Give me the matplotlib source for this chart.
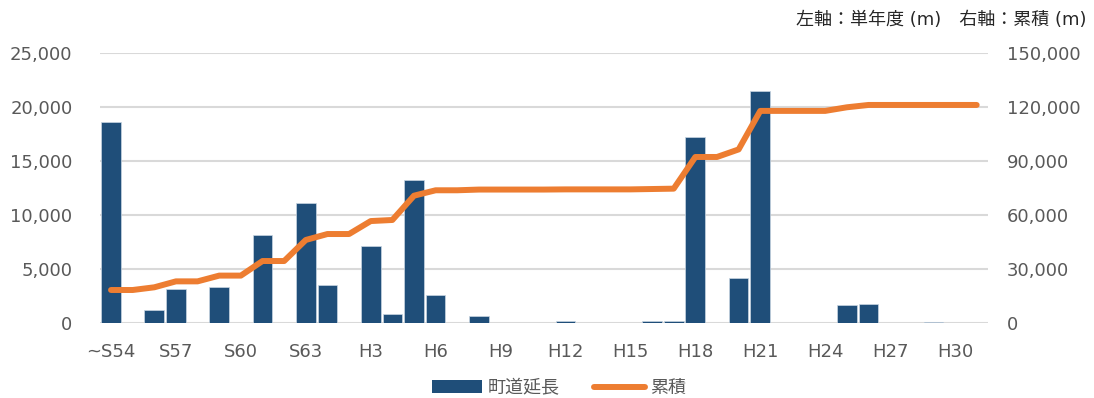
'''town road length per year (bars) with cumulative length (line)
'''
import matplotlib
matplotlib.use('Agg')
import matplotlib.pyplot as plt
from matplotlib.patches import Patch
from matplotlib.lines import Line2D

plt.rcParams['font.family'] = ['DejaVu Sans', 'Noto Sans CJK JP']

categories = ['~S54', 'S55', 'S56', 'S57', 'S58', 'S59', 'S60', 'S61', 'S62', 'S63',
              'H1', 'H2', 'H3', 'H4', 'H5', 'H6', 'H7', 'H8', 'H9', 'H10',
              'H11', 'H12', 'H13', 'H14', 'H15', 'H16', 'H17', 'H18', 'H19', 'H20',
              'H21', 'H22', 'H23', 'H24', 'H25', 'H26', 'H27', 'H28', 'H29', 'H30', 'H31']
# single year length (m), left axis
yearly = [18600, 0, 1200, 3150, 0, 3350, 0, 8150, 0, 11150,
          3550, 0, 7150, 880, 13300, 2620, 0, 650, 0, 0,
          0, 180, 0, 0, 0, 200, 200, 17250, 0, 4200,
          21550, 0, 0, 0, 1680, 1780, 0, 0, 90, 0, 30]
# cumulative length (m), right axis
cumulative = [18500, 18500, 20000, 23300, 23300, 26500, 26500, 34600, 34600, 46300,
              49600, 49600, 56800, 57400, 70900, 73900, 73900, 74300, 74300, 74300,
              74300, 74400, 74400, 74400, 74400, 74600, 74800, 92400, 92400, 96600,
              118000, 118000, 118000, 118000, 120000, 121300, 121300, 121300, 121300, 121300, 121300]
tick_labels = categories[::3]
series_names = ['町道延長', '累積']

bar_color = '#1F4E79'
line_color = '#ED7D31'
text_color = '#595959'
grid_color = '#D9D9D9'

fig = plt.figure(figsize=(10.94, 3.98), dpi=100)
ax = fig.add_axes([100.2 / 1094, (398 - 323.3) / 398, 887.3 / 1094, 270 / 398])
x = list(range(len(categories)))

ax.bar(x, yearly, width=0.91, color=bar_color, edgecolor='#C9D6E3', linewidth=0.5, zorder=2)
ax.set_xlim(-0.5, len(categories) - 0.5)
ax.set_ylim(0, 25000)
ax.set_yticks(range(0, 25001, 5000))
ax.set_yticklabels(['{:,}'.format(v) for v in range(0, 25001, 5000)])
ax.set_xticks(x[::3])
ax.set_xticklabels(tick_labels)
ax.grid(axis='y', color=grid_color, linewidth=1.5, zorder=0)
ax.set_axisbelow(True)
ax.tick_params(axis='y', length=0, pad=20, labelsize=13, labelcolor=text_color)
ax.tick_params(axis='x', length=0, pad=14, labelsize=13, labelcolor=text_color)
for s in ax.spines.values():
    s.set_visible(False)

ax2 = ax.twinx()
ax2.plot(x, cumulative, color=line_color, linewidth=4.3,
         solid_capstyle='round', solid_joinstyle='round', zorder=3)
ax2.set_ylim(0, 150000)
ax2.set_yticks(range(0, 150001, 30000))
ax2.set_yticklabels(['{:,}'.format(v) for v in range(0, 150001, 30000)])
ax2.tick_params(axis='y', length=0, pad=14, labelsize=13, labelcolor=text_color)
for s in ax2.spines.values():
    s.set_visible(False)

handles = [Patch(facecolor=bar_color, edgecolor='none'),
           Line2D([0], [0], color=line_color, linewidth=4.3, solid_capstyle='round')]
fig.legend(handles, series_names, loc='center', bbox_to_anchor=(0.511, 0.025), ncol=2,
           frameon=False, fontsize=13, handlelength=2.8, handletextpad=0.3,
           columnspacing=1.9, labelcolor=text_color)

fig.text(1087 / 1094, 1 - 20 / 398, '左軸：単年度 (m)　右軸：累積 (m)', ha='right', va='center',
         fontsize=13, color='#262626')

fig.savefig('out.png', dpi=100)
